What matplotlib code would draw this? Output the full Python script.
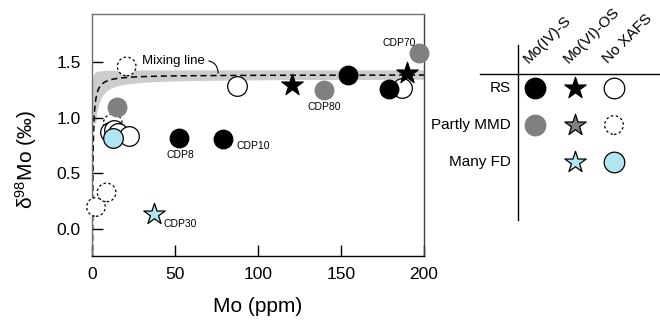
import numpy as np
import matplotlib
matplotlib.use('Agg')
import matplotlib.pyplot as plt
from matplotlib.lines import Line2D

plt.rcParams['font.family'] = ['Liberation Sans', 'DejaVu Sans']

# ---- data (Mo ppm, d98Mo permil) ----
# RS
rs_iv_x = [52.6, 78.7, 154.4, 179.1]          # Mo(IV)-S, black circles
rs_iv_y = [0.82, 0.81, 1.38, 1.255]
rs_vi_x = [120.3, 189.6]                      # Mo(VI)-OS, black stars
rs_vi_y = [1.29, 1.40]
rs_no_x = [11.0, 13.5, 15.5, 22.5, 87.2, 187.0]   # no XAFS, open circles
rs_no_y = [0.87, 0.89, 0.86, 0.84, 1.28, 1.27]
# Partly MMD
pm_iv_x = [15.2, 139.8, 197.2]                # gray circles
pm_iv_y = [1.10, 1.245, 1.58]
pm_no_x = [12.5, 2.4, 8.8, 20.9]              # dashed open circles
pm_no_y = [0.95, 0.20, 0.33, 1.46]
# Many FD
fd_vi_x = [37.4]                              # light blue star
fd_vi_y = [0.135]
fd_no_x = [12.9]                              # light blue circle
fd_no_y = [0.82]

# sample labels
lab_text = ['CDP8', 'CDP10', 'CDP80', 'CDP70', 'CDP30']
lab_x = [53, 87, 139.8, 185, 43]
lab_y = [0.665, 0.745, 1.10, 1.668, 0.045]
lab_ha = ['center', 'left', 'center', 'center', 'left']

# mixing model: d = d_inf - k / Mo
mix_d_inf, mix_k = 1.385, 0.5
band_top_inf, band_top_k = 1.425, 0.05
band_bot_inf, band_bot_k = 1.345, 1.0

GRAY = '#808080'
LBLUE = '#b0e6f2'
BAND = '#cccccc'

fig = plt.figure(figsize=(6.6, 3.25), dpi=100)
ax = fig.add_axes([92/660, 69/325, 332/660, 242/325])

# mixing band + line
xt = np.geomspace(0.55, 200, 400)
xb = np.geomspace(2.5, 200, 400)
poly_x = np.concatenate([[0.55], xt, xb[::-1]])
poly_y = np.concatenate([[0.95], band_top_inf - band_top_k / xt,
                         (band_bot_inf - band_bot_k / xb)[::-1]])
ax.fill(poly_x, poly_y, color=BAND, lw=0, zorder=1)
xm = np.geomspace(0.3, 200, 500)
ax.plot(xm, mix_d_inf - mix_k / xm, color='k', lw=1.1, dashes=(4, 2.5), zorder=2)

ax.annotate('Mixing line', xy=(76, 1.40), xytext=(30, 1.51), fontsize=9.5,
            ha='left', va='center',
            arrowprops=dict(arrowstyle='-', lw=0.8, color='k',
                            connectionstyle='arc3,rad=-0.5', relpos=(1.0, 0.5),
                            shrinkA=1, shrinkB=0))

S_C = 180
S_S = 260
kw = dict(clip_on=False, linewidths=0.9)
ax.scatter(pm_no_x, pm_no_y, s=S_C, facecolor='white', edgecolor='k',
           linestyle=(0, (2, 2)), zorder=3, **kw)
ax.scatter(rs_no_x, rs_no_y, s=S_C + 20, facecolor='white', edgecolor='k', zorder=4, **kw)
ax.scatter(pm_iv_x, pm_iv_y, s=S_C, facecolor=GRAY, edgecolor=GRAY, zorder=5, **kw)
ax.scatter(fd_no_x, fd_no_y, s=S_C + 20, facecolor=LBLUE, edgecolor='k', zorder=6, **kw)
ax.scatter(rs_iv_x, rs_iv_y, s=S_C, facecolor='k', edgecolor='k', zorder=6, **kw)
ax.scatter(rs_vi_x, rs_vi_y, s=S_S, marker='*', facecolor='k', edgecolor='k', zorder=7, **kw)
ax.scatter(fd_vi_x, fd_vi_y, s=S_S, marker='*', facecolor=LBLUE, edgecolor='k', zorder=7, **kw)

for t, x, y, ha in zip(lab_text, lab_x, lab_y, lab_ha):
    ax.text(x, y, t, fontsize=7.5, ha=ha, va='center', zorder=8)

ax.set_xlim(0, 200)
ax.set_ylim(-0.24, 1.93)
ax.set_xticks([0, 50, 100, 150, 200])
ax.set_yticks([0.0, 0.5, 1.0, 1.5])
ax.tick_params(direction='in', length=8, width=1, labelsize=12.5, pad=8)
for s in ['left', 'top']:
    ax.spines[s].set_color('#707070')
ax.spines['right'].set_color('#404040')
for s in ax.spines.values():
    s.set_linewidth(1.0)
ax.set_xlabel('Mo (ppm)', fontsize=15, labelpad=11)
ax.set_ylabel(r'$\mathregular{\delta^{98}}$Mo (‰)', fontsize=15)
ax.yaxis.set_label_coords(-0.16, 0.397)

# ---- category table on the right ----
lax = fig.add_axes([0, 0, 1, 1], zorder=-1)
lax.set_xlim(0, 660)
lax.set_ylim(325, 0)
lax.axis('off')
lax.add_line(Line2D([517.7, 517.7], [45, 220], color='k', lw=1))
lax.add_line(Line2D([480, 660], [74, 74], color='k', lw=1))

col_names = ['Mo(IV)-S', 'Mo(VI)-OS', 'No XAFS']
col_x = [535, 575, 614]
row_names = ['RS', 'Partly MMD', 'Many FD']
row_y = [88.3, 125, 162.3]
for name, x in zip(col_names, col_x):
    lax.text(x - 6, 64, name, rotation=45, rotation_mode='anchor',
             ha='left', va='baseline', fontsize=11)
for name, y in zip(row_names, row_y):
    lax.text(511, y, name, ha='right', va='center', fontsize=11)

lkw = dict(linewidths=0.9)
lax.scatter([col_x[0]], [row_y[0]], s=S_C + 40, facecolor='k', edgecolor='k', **lkw)
lax.scatter([col_x[1]], [row_y[0]], s=S_S, marker='*', facecolor='k', edgecolor='k', **lkw)
lax.scatter([col_x[2]], [row_y[0]], s=S_C + 40, facecolor='white', edgecolor='k', **lkw)
lax.scatter([col_x[0]], [row_y[1]], s=S_C + 40, facecolor=GRAY, edgecolor=GRAY, **lkw)
lax.scatter([col_x[1]], [row_y[1]], s=S_S, marker='*', facecolor=GRAY, edgecolor='k', **lkw)
lax.scatter([col_x[2]], [row_y[1]], s=S_C, facecolor='white', edgecolor='k',
            linestyle=(0, (2, 2)), **lkw)
lax.scatter([col_x[1]], [row_y[2]], s=S_S, marker='*', facecolor=LBLUE, edgecolor='k', **lkw)
lax.scatter([col_x[2]], [row_y[2]], s=S_C + 40, facecolor=LBLUE, edgecolor='k', **lkw)

fig.savefig('out.png', dpi=100)
